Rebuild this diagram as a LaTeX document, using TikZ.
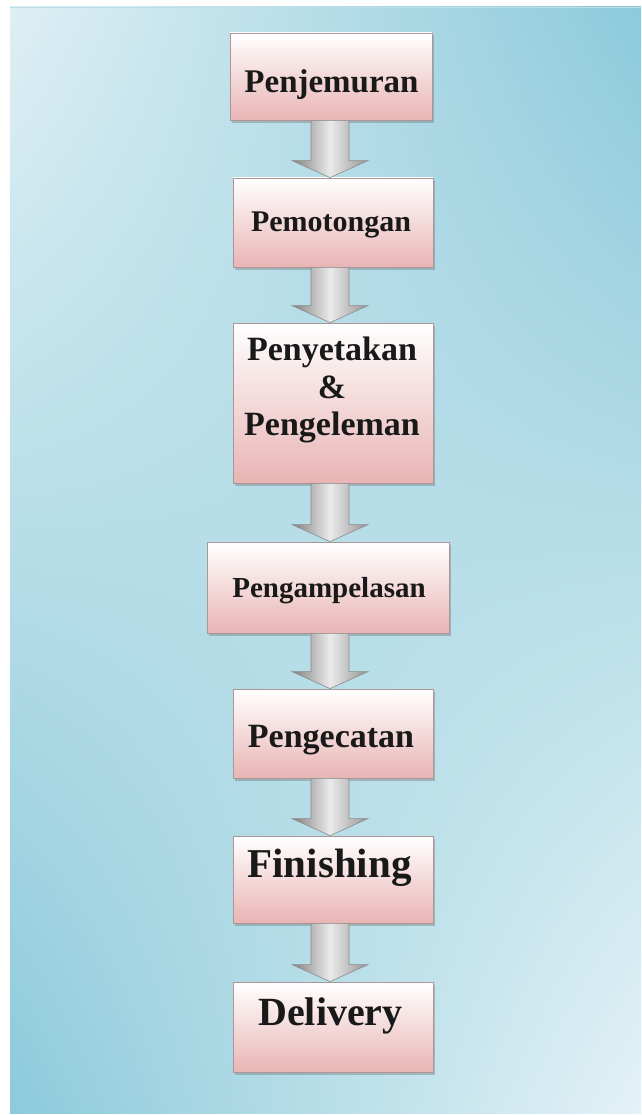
\documentclass[tikz,border=0pt]{standalone}
\usepackage{fontspec}
\setmainfont{Liberation Serif}
\usetikzlibrary{calc,shadows,shadings}

\definecolor{bgpale}{RGB}{222,239,244}
\definecolor{bgblue}{RGB}{140,202,219}
\definecolor{bgpale2}{RGB}{228,242,246}
\definecolor{boxpink}{RGB}{233,180,180}
\definecolor{boxedge}{RGB}{175,150,150}
\definecolor{arrowedge}{RGB}{140,140,140}

\tikzset{
  stepbox/.style={draw=boxedge, line width=0.8pt, inner sep=0pt,
    top color=white, bottom color=boxpink,
    drop shadow={shadow xshift=2pt, shadow yshift=-3pt, opacity=0.35, fill=black!60}},
  steptext/.style={inner sep=0pt, text=black!90, font=\bfseries},
  flowbody/.style={draw=arrowedge, line width=0.6pt, line join=miter,
    left color=black!50, right color=black!42, middle color=black!8}
}

% Block arrow from the bottom of #1 to the top of #2, centred on the spine
\newcommand\flowarrow[2]{%
  \path[flowbody] let \p1=(#1.south), \p2=(#2.north), \p3=(spine) in
    (\x3-19pt,\y1) -- (\x3+19pt,\y1) -- (\x3+19pt,\y2+17pt) -- (\x3+38pt,\y2+17pt)
    -- (\x3,\y2) -- (\x3-38pt,\y2+17pt) -- (\x3-19pt,\y2+17pt) -- cycle;}

\begin{document}
\begin{tikzpicture}[x=1pt,y=-1pt]
  \useasboundingbox (0,0) rectangle (641,1115);
  \fill[white] (0,0) rectangle (641,1115);
  % background panel
  \shade[upper left=bgpale, upper right=bgblue, lower left=bgblue, lower right=bgpale2]
    (10,7) rectangle (641,1113);
  \draw[bgblue!60!white, line width=0.8pt] (10,7) -- (641,7);

  \coordinate (spine) at (330,0);

  % process steps
  \node[stepbox, minimum width=202, minimum height=87] (b1) at (331,76.5) {};
  \node[stepbox, minimum width=200, minimum height=89] (b2) at (333,222.5) {};
  \node[stepbox, minimum width=200, minimum height=160] (b3) at (333,403) {};
  \node[stepbox, minimum width=242, minimum height=91] (b4) at (328,587.5) {};
  \node[stepbox, minimum width=200, minimum height=89] (b5) at (333,733.5) {};
  \node[stepbox, minimum width=200, minimum height=87] (b6) at (333,879.5) {};
  \node[stepbox, minimum width=200, minimum height=90] (b7) at (333,1027) {};

  \node[steptext, anchor=base, font=\bfseries\fontsize{33}{37.5}\selectfont] (t1) at (331.5,93) {Penjemuran};
  \node[steptext, anchor=base, font=\bfseries\fontsize{30}{36}\selectfont] (t2) at (331,232) {Pemotongan};
  \node[steptext, anchor=north, align=center, font=\bfseries\fontsize{34}{37.5}\selectfont] (t3) at (332,337)
    {Penyetakan\\\&\\Pengeleman};
  \node[steptext, anchor=base, font=\bfseries\fontsize{29}{36}\selectfont] (t4) at (329,597) {Pengampelasan};
  \node[steptext, anchor=base, font=\bfseries\fontsize{34}{36}\selectfont] (t5) at (331,747) {Pengecatan};
  \node[steptext, anchor=base, font=\bfseries\fontsize{41}{46}\selectfont] (t6) at (329.5,877) {Finishing};
  \node[steptext, anchor=base, font=\bfseries\fontsize{40}{46}\selectfont] (t7) at (330.5,1025) {Delivery};

  % connectors
  \flowarrow{b1}{b2}
  \flowarrow{b2}{b3}
  \flowarrow{b3}{b4}
  \flowarrow{b4}{b5}
  \flowarrow{b5}{b6}
  \flowarrow{b6}{b7}
\end{tikzpicture}
\end{document}
